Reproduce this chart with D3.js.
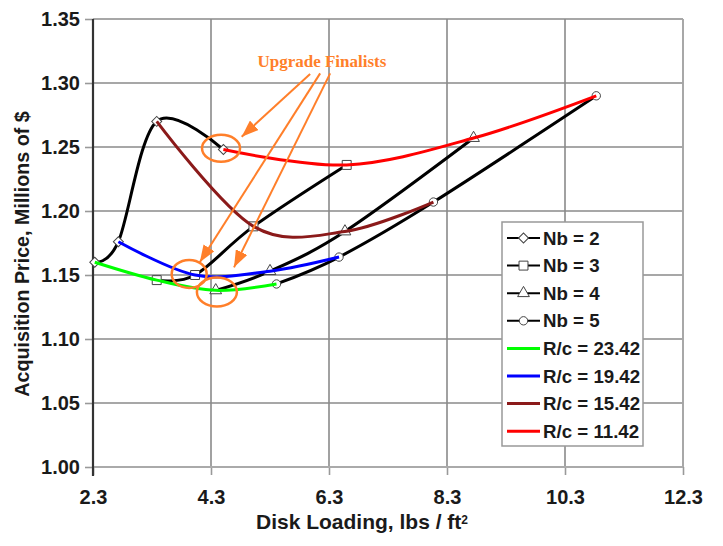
<!DOCTYPE html>
<html>
<head>
<meta charset="utf-8">
<script src="https://cdn.jsdelivr.net/npm/d3@7"></script>
<style>
  body { margin: 0; background: #fff; }
  svg { display: block; }
  text { font-family: "Liberation Sans", Arial, sans-serif; font-weight: bold; fill: #1a1a1a; }
</style>
</head>
<body>
<svg id="chart" width="723" height="546"></svg>
<script>
// axis ticks
var xTicks = [2.3, 4.3, 6.3, 8.3, 10.3, 12.3];
var yTicks = [1.00, 1.05, 1.10, 1.15, 1.20, 1.25, 1.30, 1.35];

// blade count series, each ordered by R/c = 23.42, 19.42, 15.42, 11.42
var nbNames = ["Nb = 2", "Nb = 3", "Nb = 4", "Nb = 5"];
var loadNb2 = [2.33, 2.73, 3.38, 4.51];
var priceNb2 = [1.160, 1.176, 1.270, 1.248];
var loadNb3 = [3.38, 4.03, 5.02, 6.60];
var priceNb3 = [1.146, 1.150, 1.188, 1.236];
var loadNb4 = [4.38, 5.30, 6.57, 8.75];
var priceNb4 = [1.138, 1.153, 1.184, 1.257];
var loadNb5 = [5.41, 6.47, 8.07, 10.83];
var priceNb5 = [1.143, 1.164, 1.207, 1.290];

// constant R/c lines go through the same points, one from each blade count
var rcNames = ["R/c = 23.42", "R/c = 19.42", "R/c = 15.42", "R/c = 11.42"];
var rcColors = ["#00ff00", "#0000ff", "#8b1a1a", "#ff0000"];

// "Upgrade Finalists" callout, in data units
var calloutLabel = {x: 6.18, y: 1.3127, text: "Upgrade Finalists"};
var calloutRings = [{x: 4.47, y: 1.2490, rx: 19, ry: 13.5},
                    {x: 3.93, y: 1.1508, rx: 17.5, ry: 14},
                    {x: 4.40, y: 1.1367, rx: 20, ry: 14.5}];
var calloutArrows = [{x0: 5.98, y0: 1.3070, x1: 4.82, y1: 1.2580},
                     {x0: 6.15, y0: 1.3075, x1: 4.11, y1: 1.1600},
                     {x0: 6.32, y0: 1.3075, x1: 4.69, y1: 1.1560}];

var orange = "#ff7f2a";
var loads = [loadNb2, loadNb3, loadNb4, loadNb5];
var prices = [priceNb2, priceNb3, priceNb4, priceNb5];

var nbSeries = nbNames.map(function(name, i) {
    return {name: name, points: loads[i].map(function(v, j) { return [v, prices[i][j]]; })};
});
var rcSeries = rcNames.map(function(name, j) {
    return {name: name, color: rcColors[j], points: loads.map(function(l, i) { return [l[j], prices[i][j]]; })};
});

var svg = d3.select("#chart");
var margin = {top: 19, right: 40, bottom: 79, left: 93},
    width = 723 - margin.left - margin.right,
    height = 546 - margin.top - margin.bottom;

var x = d3.scaleLinear().domain([2.3, 12.3]).range([margin.left, margin.left + width]);
var y = d3.scaleLinear().domain([1.00, 1.35]).range([margin.top + height, margin.top]);

// grid
svg.append("g").selectAll("line")
    .data(yTicks.slice(1))
    .enter().append("line")
    .attr("x1", x(2.3)).attr("x2", x(12.3))
    .attr("y1", function(d) { return y(d); }).attr("y2", function(d) { return y(d); })
    .attr("stroke", "#8a8a8a").attr("stroke-width", 1.6);

svg.append("g").selectAll("line")
    .data(xTicks.slice(1))
    .enter().append("line")
    .attr("x1", function(d) { return x(d); }).attr("x2", function(d) { return x(d); })
    .attr("y1", y(1.35)).attr("y2", y(1.00))
    .attr("stroke", "#8a8a8a").attr("stroke-width", 1.6);

// axes
var yAxis = svg.append("g")
    .attr("transform", "translate(" + margin.left + ",0)")
    .call(d3.axisLeft(y).tickValues(yTicks).tickSize(8).tickPadding(5).tickFormat(d3.format(".2f")));
var xAxis = svg.append("g")
    .attr("transform", "translate(0," + (margin.top + height) + ")")
    .call(d3.axisBottom(x).tickValues(xTicks).tickSize(8).tickPadding(15).tickFormat(d3.format(".1f")));

[yAxis, xAxis].forEach(function(a) {
    a.select(".domain").remove();
    a.selectAll(".tick line").attr("stroke", "#999").attr("stroke-width", 1.6);
    a.selectAll(".tick text").style("font-size", "20px").attr("fill", "#1a1a1a");
});

svg.append("line")
    .attr("x1", x(2.3)).attr("x2", x(12.3)).attr("y1", y(1.00)).attr("y2", y(1.00))
    .attr("stroke", "#aaa").attr("stroke-width", 2);
svg.append("line")
    .attr("x1", x(12.3)).attr("x2", x(12.3)).attr("y1", y(1.35)).attr("y2", y(1.00))
    .attr("stroke", "#aaa").attr("stroke-width", 1.6);
svg.append("line")
    .attr("x1", x(2.3)).attr("x2", x(2.3)).attr("y1", y(1.35)).attr("y2", y(1.00) + 9)
    .attr("stroke", "#333").attr("stroke-width", 2.2);

// axis titles
svg.append("text")
    .attr("transform", "translate(29," + 254 + ") rotate(-90)")
    .attr("text-anchor", "middle")
    .style("font-size", "19.7px")
    .text("Acquisition Price, Millions of $");

var xTitle = svg.append("text")
    .attr("x", 362).attr("y", 529)
    .attr("text-anchor", "middle")
    .style("font-size", "21px")
    .text("Disk Loading, lbs / ft");
xTitle.append("tspan").attr("dy", "-0.45em").style("font-size", "12px").text("2");

// series, smoothed the way the spreadsheet does (uniform Catmull-Rom)
var line = d3.line()
    .x(function(d) { return x(d[0]); })
    .y(function(d) { return y(d[1]); })
    .curve(d3.curveCatmullRom.alpha(0));

var symbols = [
    {type: d3.symbolSquare, size: 50, rotate: 45},
    {type: d3.symbolSquare, size: 80, rotate: 0},
    {type: d3.symbolTriangle, size: 60, rotate: 0},
    {type: d3.symbolCircle, size: 55, rotate: 0}
];

function drawMarker(g, i, px, py) {
    var s = symbols[i];
    g.append("path")
        .attr("d", d3.symbol().type(s.type).size(s.size)())
        .attr("transform", "translate(" + px + "," + py + ") rotate(" + s.rotate + ")")
        .attr("fill", "#fff")
        .attr("stroke", "#444")
        .attr("stroke-width", 1);
}

nbSeries.forEach(function(s, i) {
    var g = svg.append("g");
    g.append("path")
        .attr("d", line(s.points))
        .attr("fill", "none")
        .attr("stroke", "#000")
        .attr("stroke-width", 3);
    s.points.forEach(function(p) { drawMarker(g, i, x(p[0]), y(p[1])); });
});

rcSeries.forEach(function(s) {
    svg.append("path")
        .attr("d", line(s.points))
        .attr("fill", "none")
        .attr("stroke", s.color)
        .attr("stroke-width", 3);
});

// callout
svg.append("defs").append("marker")
    .attr("id", "head")
    .attr("viewBox", "0 0 16 12")
    .attr("refX", 16).attr("refY", 6)
    .attr("markerWidth", 17).attr("markerHeight", 13)
    .attr("markerUnits", "userSpaceOnUse")
    .attr("orient", "auto")
    .append("path")
    .attr("d", "M0,0L16,6L0,12Z")
    .attr("fill", orange);

svg.append("g").selectAll("line")
    .data(calloutArrows)
    .enter().append("line")
    .attr("x1", function(d) { return x(d.x0); }).attr("y1", function(d) { return y(d.y0); })
    .attr("x2", function(d) { return x(d.x1); }).attr("y2", function(d) { return y(d.y1); })
    .attr("stroke", orange).attr("stroke-width", 2)
    .attr("marker-end", "url(#head)");

svg.append("g").selectAll("ellipse")
    .data(calloutRings)
    .enter().append("ellipse")
    .attr("cx", function(d) { return x(d.x); }).attr("cy", function(d) { return y(d.y); })
    .attr("rx", function(d) { return d.rx; }).attr("ry", function(d) { return d.ry; })
    .attr("fill", "none").attr("stroke", orange).attr("stroke-width", 2.5);

svg.append("text")
    .attr("x", x(calloutLabel.x)).attr("y", y(calloutLabel.y))
    .attr("text-anchor", "middle")
    .style("font-family", "'Liberation Serif', 'Times New Roman', serif")
    .style("font-size", "17px")
    .style("fill", orange)
    .text(calloutLabel.text);

// legend
var legend = svg.append("g").attr("transform", "translate(502,222)");
legend.append("rect")
    .attr("width", 141).attr("height", 224)
    .attr("fill", "#fff").attr("stroke", "#999").attr("stroke-width", 1.5);

var rowY = function(k) { return 16 + k * 27.6; };

nbNames.forEach(function(name, i) {
    var r = legend.append("g").attr("transform", "translate(0," + rowY(i) + ")");
    r.append("line").attr("x1", 5).attr("x2", 38).attr("stroke", "#000").attr("stroke-width", 2);
    drawMarker(r, i, 21.5, 0);
    r.append("text").attr("x", 41).attr("y", 6.5).style("font-size", "18.7px").text(name);
});

rcNames.forEach(function(name, j) {
    var r = legend.append("g").attr("transform", "translate(0," + rowY(j + 4) + ")");
    r.append("line").attr("x1", 5).attr("x2", 38).attr("stroke", rcColors[j]).attr("stroke-width", 3);
    r.append("text").attr("x", 41).attr("y", 6.5).style("font-size", "18.7px").text(name);
});
</script>
</body>
</html>
